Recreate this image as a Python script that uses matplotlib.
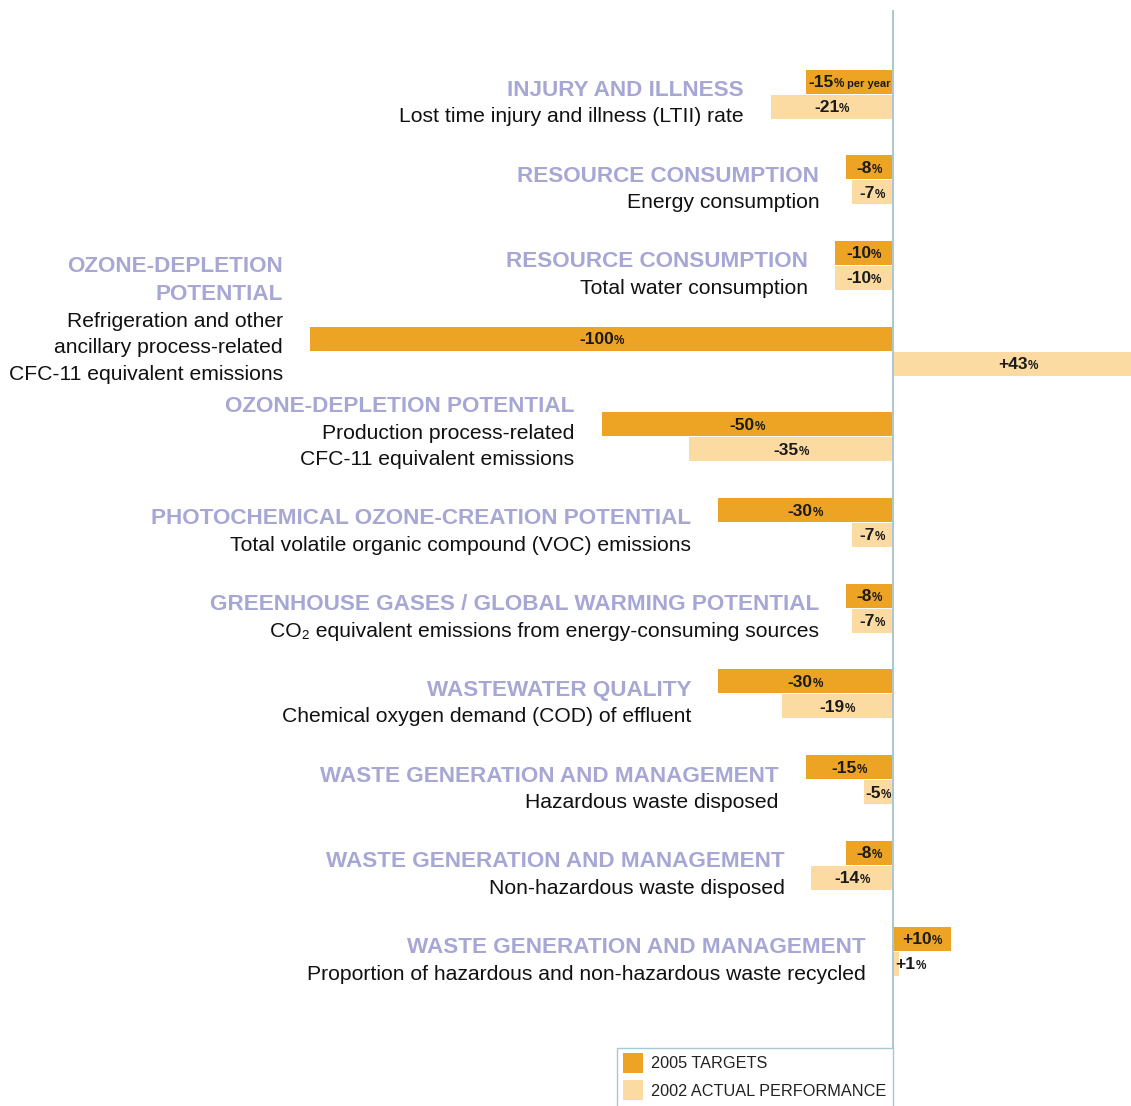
import matplotlib
matplotlib.use("Agg")
import matplotlib.pyplot as plt
from matplotlib.patches import Rectangle
from matplotlib.offsetbox import TextArea, HPacker, AnnotationBbox

# indicators, top to bottom
titles = [
    "INJURY AND ILLNESS",
    "RESOURCE CONSUMPTION",
    "RESOURCE CONSUMPTION",
    "OZONE-DEPLETION\nPOTENTIAL",
    "OZONE-DEPLETION POTENTIAL",
    "PHOTOCHEMICAL OZONE-CREATION POTENTIAL",
    "GREENHOUSE GASES / GLOBAL WARMING POTENTIAL",
    "WASTEWATER QUALITY",
    "WASTE GENERATION AND MANAGEMENT",
    "WASTE GENERATION AND MANAGEMENT",
    "WASTE GENERATION AND MANAGEMENT",
]
subtitles = [
    "Lost time injury and illness (LTII) rate",
    "Energy consumption",
    "Total water consumption",
    "Refrigeration and other\nancillary process-related\nCFC-11 equivalent emissions",
    "Production process-related\nCFC-11 equivalent emissions",
    "Total volatile organic compound (VOC) emissions",
    "CO\u2082 equivalent emissions from energy-consuming sources",
    "Chemical oxygen demand (COD) of effluent",
    "Hazardous waste disposed",
    "Non-hazardous waste disposed",
    "Proportion of hazardous and non-hazardous waste recycled",
]
targets_2005 = [-15, -8, -10, -100, -50, -30, -8, -30, -15, -8, 10]
actual_2002 = [-21, -7, -10, 43, -35, -7, -7, -19, -5, -14, 1]
target_notes = [" per year", "", "", "", "", "", "", "", "", "", ""]

C_TARGET = "#EDA424"
C_ACTUAL = "#FBDBA2"
C_TITLE = "#A7A7D6"
C_AXIS = "#A9C8D2"
SANS = ["Liberation Sans", "DejaVu Sans"]

W, H = 1131, 1106
X0_PX = 893          # where zero sits
PX_PER_PCT = 5.83

fig = plt.figure(figsize=(W / 100, H / 100), dpi=100)
ax = fig.add_axes([0, 0, 1, 1])
ax.set_xlim(-X0_PX / PX_PER_PCT, (W - X0_PX) / PX_PER_PCT)
ax.set_ylim(H, 0)
ax.axis("off")

first_center = 94
spacing = 85.7
bar_h = 24
gap = 27 / PX_PER_PCT
line_h = 26.5


def value_label(x, y, value, note="", ha="center"):
    sign = "+" if value > 0 else "-"
    props = dict(family=SANS, weight="bold", color="#1a1a1a")
    parts = [TextArea(f"{sign}{abs(value)}", textprops=dict(props, fontsize=12.5)),
             TextArea("%", textprops=dict(props, fontsize=8.5))]
    if note:
        parts.append(TextArea(note, textprops=dict(props, fontsize=8)))
    box = HPacker(children=parts, align="baseline", pad=0, sep=0)
    align = (0.5, 0.5) if ha == "center" else (0.0, 0.5)
    ab = AnnotationBbox(box, (x, y), xycoords="data", box_alignment=align, frameon=False, pad=0)
    ax.add_artist(ab)


for i in range(len(titles)):
    c = first_center + i * spacing
    yt = c - bar_h / 2 - 0.5
    ya = c + bar_h / 2 + 0.5

    for v, y, col in [(targets_2005[i], yt, C_TARGET), (actual_2002[i], ya, C_ACTUAL)]:
        ax.barh(y, v, height=bar_h, left=0, color=col, edgecolor="none", zorder=2)
        if abs(v) < 3:
            value_label(0.4, y + 1, v, ha="left")
        else:
            value_label(v / 2, y + 1, v, note=target_notes[i] if col == C_TARGET else "")

    # text block ends a fixed gap left of the longest negative bar
    x_txt = min(targets_2005[i], actual_2002[i], 0) - gap
    sub_lines = subtitles[i].split("\n")
    title_lines = titles[i].split("\n")
    base = ya + bar_h / 2 + 4
    for k, line in enumerate(reversed(sub_lines)):
        ax.text(x_txt, base - k * line_h, line, ha="right", va="baseline",
                family=SANS, fontsize=15.2, color="#111111")
    base -= len(sub_lines) * line_h
    for k, line in enumerate(reversed(title_lines)):
        ax.text(x_txt, base - k * 28, line, ha="right", va="baseline",
                family=SANS, fontsize=16.2, weight="bold", color=C_TITLE)

# zero line
ax.plot([0, 0], [10, 1048], color=C_AXIS, lw=1.4, zorder=3, solid_capstyle="butt")

# legend box
lx0 = (617 - X0_PX) / PX_PER_PCT
ax.plot([lx0, lx0, 0, 0], [H + 5, 1048, 1048, H + 5], color=C_AXIS, lw=1.0, zorder=3)
legend_items = [("2005 TARGETS", C_TARGET), ("2002 ACTUAL PERFORMANCE", C_ACTUAL)]
for k, (lab, col) in enumerate(legend_items):
    y = 1062.5 + k * 27
    ax.add_patch(Rectangle(((623 - X0_PX) / PX_PER_PCT, y - 10), 20 / PX_PER_PCT, 20,
                           facecolor=col, edgecolor="none"))
    ax.text((651 - X0_PX) / PX_PER_PCT, y + 1.5, lab, ha="left", va="center",
            family=SANS, fontsize=11.7, color="#222222")

fig.savefig("out.png", dpi=100, facecolor="white")
